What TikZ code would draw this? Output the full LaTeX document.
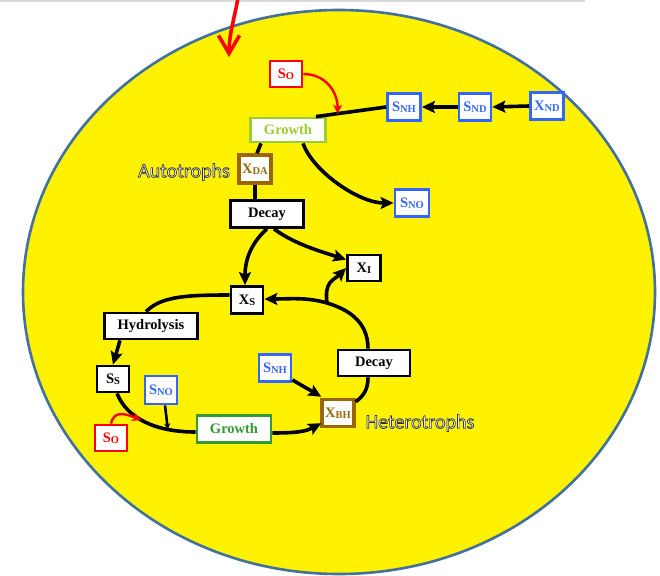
\documentclass[tikz,border=0pt]{standalone}
\usepackage{fontspec}
\setmainfont{Liberation Serif}
\newfontfamily\labelfont{Carlito}
\usetikzlibrary{arrows.meta,calc}

\definecolor{rimblue}{HTML}{41719C}
\definecolor{boxblue}{HTML}{3366FF}
\definecolor{boxbrown}{HTML}{996600}
\definecolor{lightgrn}{HTML}{99CC33}
\definecolor{darkgrn}{HTML}{339933}
\definecolor{topgray}{HTML}{D9D9D9}

% symbol with a small lowered index, e.g. S_NH
\newcommand{\idx}[2]{#1\raisebox{-1.2pt}{\fontsize{10.5}{10.5}\selectfont #2}}
% white lettering with a thin dark rim (fill + stroke text rendering)
\newcommand{\rimtext}[1]{\special{pdf:literal direct 0.2 G 0.7 w 1 j 2 Tr}#1\special{pdf:literal direct 0 Tr}}

\tikzset{
  box/.style={draw, fill=white, line width=2.8pt, inner sep=0pt,
    font=\fontsize{14.5}{14.5}\selectfont\bfseries, minimum width=32pt, minimum height=27pt},
  blackbox/.style={box, draw=black, text=black},
  bluebox/.style={box, draw=boxblue, text=boxblue},
  redbox/.style={box, draw=red, text=red},
  brownbox/.style={box, draw=boxbrown, text=boxbrown, line width=3.4pt},
  ln/.style={line width=3.6pt},
  arr/.style={ln, -{Stealth[length=13pt,width=12pt,inset=2.5pt]}},
  smallarr/.style={line width=2.6pt, -{Stealth[length=6pt,width=6pt]}},
  redarr/.style={draw=red, line width=2.4pt, -{Stealth[length=9pt,width=9pt]}},
  grouplabel/.style={font=\labelfont\fontsize{20}{20}\selectfont, inner sep=0pt, text=white},
}

\begin{document}
\begin{tikzpicture}[x=1pt,y=-1pt]
  \useasboundingbox (0,0) rectangle (660,575);
  \draw[topgray, line width=2pt] (0,1) -- (585,1);

  % the cell
  \draw[fill=yellow, draw=rimblue, line width=2.6pt] (339,292) ellipse [x radius=316, y radius=282];

  % oxygen entering from outside
  \coordinate (inTop) at (238,-2);
  \coordinate (inTip) at (229,57);
  \draw[red, line width=3.6pt, line cap=round, -{Straight Barb[length=18pt,width=21pt]}]
    (inTop) .. controls +(-4,22) and +(0,-22) .. (inTip);

  % autotrophic part
  \node[redbox, minimum width=32pt, minimum height=26pt] (so1) at (286,74) {\idx{S}{O}};
  \node[bluebox, minimum width=33pt] (snh1) at (404,107) {\idx{S}{NH}};
  \node[bluebox] (snd) at (475,107) {\idx{S}{ND}};
  \node[bluebox, minimum width=33pt] (xnd) at (547,106) {X\textcolor{boxblue}{\raisebox{-1.2pt}{\fontsize{10.5}{10.5}\selectfont ND}}};
  \node[box, draw=lightgrn, text=lightgrn, minimum width=75pt, minimum height=24pt] (g1) at (288,130) {Growth};
  \node[brownbox, minimum width=32pt, minimum height=28pt] (xda) at (255,169) {\idx{X}{DA}};
  \node[blackbox, minimum width=73pt] (d1) at (267,214) {Decay};
  \node[bluebox, minimum width=34pt] (sno1) at (412,203) {\idx{S}{NO}};
  \node[blackbox, minimum width=33pt, minimum height=26pt] (xi) at (364,268) {\idx{X}{I}};

  % heterotrophic part
  \node[blackbox] (xs) at (247,300) {\idx{X}{S}};
  \node[blackbox, minimum width=93pt, minimum height=26pt] (hy) at (151,326) {Hydrolysis};
  \node[blackbox, minimum height=26pt] (ss) at (113,379) {\idx{S}{S}};
  \node[bluebox, minimum height=28pt] (sno2) at (161,390) {\idx{S}{NO}};
  \node[bluebox] (snh2) at (275,368) {\idx{S}{NH}};
  \node[blackbox, minimum width=72pt, minimum height=26pt] (d2) at (374,363) {Decay};
  \node[brownbox, minimum width=32pt, minimum height=27pt] (xbh) at (338,413) {\idx{X}{BH}};
  \node[box, draw=darkgrn, text=darkgrn, minimum width=74pt] (g2) at (234,429) {Growth};
  \node[redbox, minimum height=26pt] (so2) at (111,438) {\idx{S}{O}};

  % group labels
  \node[grouplabel] (auto) at (184,172) {\rimtext{Autotrophs}};
  \node[grouplabel] (het) at (420,423) {\rimtext{Heterotrophs}};

  % nitrogen chain and autotrophic growth
  \draw[arr] (xnd.west) -- (snd.east);
  \draw[arr] (snd.west) -- (snh1.east);
  \draw[ln] (snh1.west) -- coordinate[pos=0.69] (j1) ($(g1.north east)+(-11,0)$);
  \draw[redarr] (so1.east) .. controls +(22,0) and +(0,-22) .. (j1);
  \draw[ln] ($(g1.south)+(-27,0)$) -- ($(xda.north)+(2,0)$);
  \draw[arr] ($(g1.south)+(15,0)$) .. controls +(10,28) and +(-35,0) .. (sno1.west);
  \draw[ln] (xda.south) -- (xda.south |- d1.north);

  % autotroph decay
  \draw[arr] (d1.south) .. controls +(-16,14) and +(0,-25) .. ($(xs.north)+(-2,0)$);
  \draw[arr] ($(d1.south)+(7,0)$) .. controls +(20,15) and +(-25,-8) .. ($(xi.north west)+(0,6)$);

  % heterotroph decay, back to XS and XI
  \coordinate (br) at (327,303);
  \draw[arr] ($(d2.north)+(-6,0)$) .. controls +(0,-28) and +(20,6) .. (br)
             .. controls +(-20,-6) and +(25,0) .. ($(xs.east)+(0,-1)$);
  \draw[arr] (br) .. controls +(-3,-22) and +(-12,12) .. ($(xi.west)+(0,0)$);

  % hydrolysis and heterotrophic growth
  \draw[ln] ($(xs.west)+(0,-5)$) .. controls +(-45,0) and +(15,-15) .. ($(hy.north)+(-5,0)$);
  \draw[arr] ($(hy.south)+(-31,0)$) -- (ss.north);
  \draw[ln] ($(ss.south)+(4,0)$) .. controls +(10,25) and +(-40,0) ..
            coordinate[pos=0.45] (j2) coordinate[pos=0.75] (j3) ($(g2.west)+(0,3)$);
  \draw[redarr] (so2.north) .. controls +(3,-14) and +(-15,-6) .. (j2);
  \draw[smallarr] ($(sno2.south)+(4,0)$) -- (j3);
  \draw[arr] ($(g2.east)+(0,4)$) .. controls +(25,0) and +(-15,8) .. ($(xbh.south west)+(1,-5)$);
  \draw[arr] ($(snh2.south east)+(0,-3)$) .. controls +(10,6) and +(-10,-6) .. ($(xbh.north west)+(1,-1)$);
  \draw[ln] ($(xbh.north east)+(0,4)$) .. controls +(8,-6) and +(0,12) .. ($(d2.south)+(-6,0)$);
\end{tikzpicture}
\end{document}
